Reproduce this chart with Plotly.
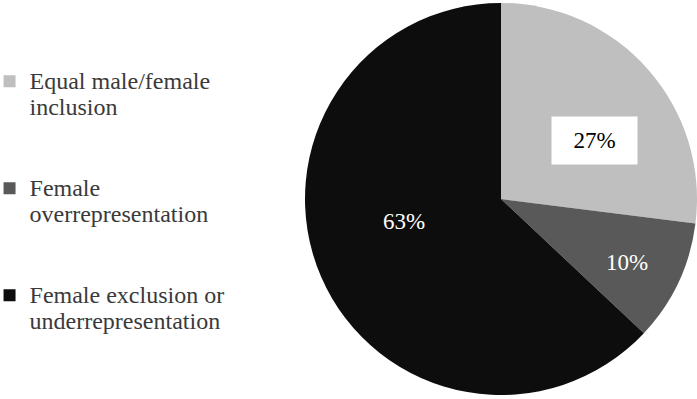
import math
import plotly.graph_objects as go

labels = ["Equal male/female<br>inclusion", "Female<br>overrepresentation",
          "Female exclusion or<br>underrepresentation"]
values = [27, 10, 63]
colors = ["#bfbfbf", "#595959", "#0d0d0d"]
text_colors = ["#000000", "#ffffff", "#ffffff"]
label_boxes = ["#ffffff", None, None]
# label placement: shift from slice mid-angle (deg) and fraction of radius
label_shift = [9.3, 1.7, 10.6]
label_rfrac = [0.566, 0.72, 0.51]

W, H = 697, 399
dom_x = [305 / W, 1.0]
dom_y = [2 / H, 398 / H]


def legend_label(s):
    lines = s.split("<br>")
    lines = [f'<span style="font-size:24px">{ln}</span>' for ln in lines]
    return "<br>".join(lines) + "<br> <br> "


fig = go.Figure()
fig.add_trace(go.Pie(
    labels=[legend_label(l) for l in labels],
    values=values,
    marker=dict(colors=colors, line=dict(width=0)),
    sort=False,
    direction="clockwise",
    rotation=0,
    textinfo="none",
    hoverinfo="percent",
    domain=dict(x=dom_x, y=dom_y),
    showlegend=True,
))

total = sum(values)
cx = (dom_x[0] + dom_x[1]) / 2 * W
cy = (1 - (dom_y[0] + dom_y[1]) / 2) * H
R = min((dom_x[1] - dom_x[0]) * W, (dom_y[1] - dom_y[0]) * H) / 2
cum = 0
for i, v in enumerate(values):
    mid = (cum + v / 2) / total * 2 * math.pi + math.radians(label_shift[i])
    cum += v
    r = label_rfrac[i] * R
    px = cx + r * math.sin(mid)
    py = cy - r * math.cos(mid)
    kw = {}
    if label_boxes[i]:
        kw = dict(bgcolor=label_boxes[i], width=83, height=45)
    fig.add_annotation(
        x=px / W, y=1 - py / H, xref="paper", yref="paper",
        xanchor="center", yanchor="middle",
        text=f"{v / total:.0%}", showarrow=False,
        font=dict(family="Liberation Serif", size=23, color=text_colors[i]),
        **kw,
    )

fig.update_layout(
    width=W, height=H,
    margin=dict(l=0, r=0, t=0, b=0, autoexpand=False),
    paper_bgcolor="#ffffff", plot_bgcolor="#ffffff",
    legend=dict(
        x=-0.015, y=0.845, xanchor="left", yanchor="top",
        valign="top",
        font=dict(family="Liberation Serif", size=20, color="#3a3a3a"),
        itemwidth=30,
        bgcolor="rgba(0,0,0,0)",
    ),
)
fig.write_html("out.html")
